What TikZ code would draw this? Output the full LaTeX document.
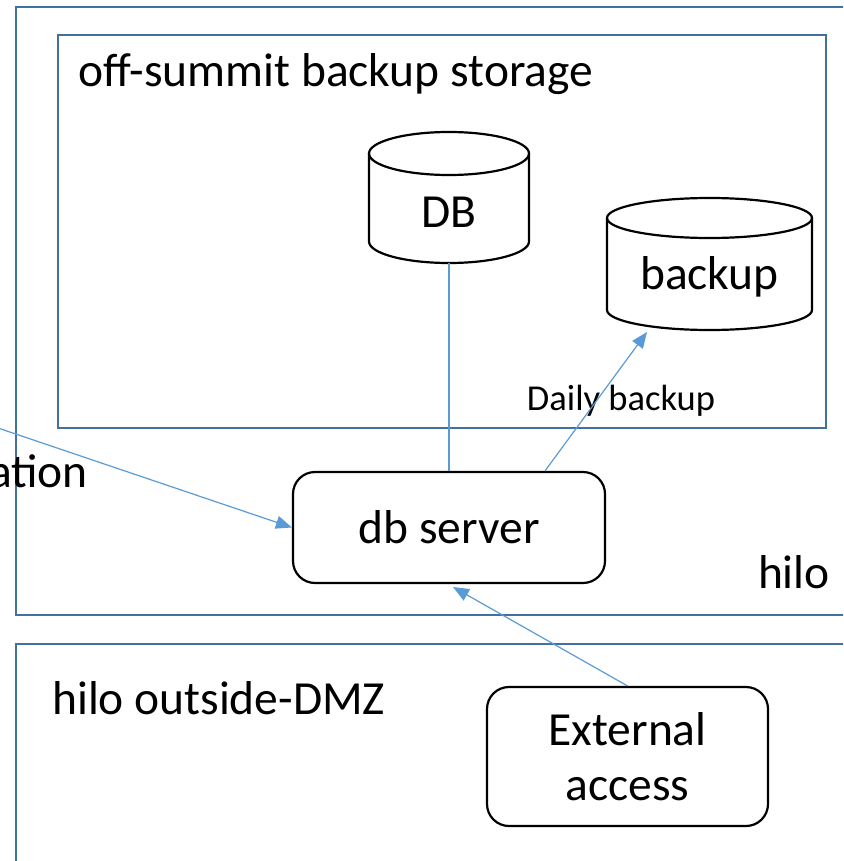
\documentclass[tikz,border=0pt]{standalone}
\usepackage{fontspec}
\setmainfont{Carlito}
\usetikzlibrary{arrows.meta}
\definecolor{boxblue}{HTML}{41719C}
\definecolor{arrowblue}{HTML}{5B9BD5}
\tikzset{
  zone/.style={draw=boxblue, line width=2.8pt},
  cyl/.style={draw=black, line width=2.2pt},
  rbox/.style={draw=black, line width=2.2pt, rounded corners=22pt},
  big/.style={font=\fontsize{47.5}{52}\selectfont, inner sep=0pt},
  small/.style={font=\fontsize{36.5}{40}\selectfont, inner sep=0pt},
  conn/.style={draw=arrowblue, line width=1.2pt},
  arr/.style={conn, -{Triangle[length=16pt,width=13pt]}}
}
\begin{document}
\begin{tikzpicture}[x=1pt,y=1pt]
\useasboundingbox (0,0) rectangle (843,-861);
\begin{scope}
\clip (0,0) rectangle (843,-861);
% zones
\draw[zone] (900,-7) -- (16,-7) -- (16,-615) -- (900,-615);
\draw[zone] (58,-35) rectangle (826,-428);
\draw[zone] (900,-644) -- (16,-644) -- (16,-900);
% DB cylinder
\draw[cyl, fill=white] (369,-153.5) -- (369,-241.5) arc[start angle=180,end angle=360,x radius=80,y radius=21.5] -- (529,-153.5);
\draw[cyl] (449,-153.5) ellipse[x radius=80,y radius=21.5];
\node[big] (db) at (449,-212) {DB};
\coordinate (dbbot) at (449,-263);
% backup cylinder
\draw[cyl] (607,-218) -- (607,-310) arc[start angle=180,end angle=360,x radius=102.5,y radius=20] -- (812,-218);
\draw[cyl] (709.5,-218) ellipse[x radius=102.5,y radius=20];
\node[big] (bk) at (709.5,-277) {backup};
\coordinate (bkbot) at (647,-332);
% db server
\node[rbox, minimum width=312pt, minimum height=111pt, font=\fontsize{47.5}{52}\selectfont] (srv) at (449,-527.5) {db server};
% external access
\node[rbox, minimum width=281pt, minimum height=139pt, align=center, font=\fontsize{47.5}{55}\selectfont] (ext) at (627.5,-756.5) {External\\access};
% labels
\node[big, anchor=base west] (t1) at (78,-87) {off-summit backup storage};
\node[big, anchor=base east] (t2) at (830,-588) {hilo};
\node[big, anchor=base west] (t3) at (52,-714) {hilo outside-DMZ};
\node[big, anchor=base east] (t4) at (88,-487) {ation};
\node[small] (lbl) at (621,-401) {Daily backup};
% connectors
\coordinate (lstart) at (-2,-428);
\draw[conn] (dbbot) -- (srv.north);
\draw[arr] (srv.north -| 545,0) -- (bkbot);
\draw[arr] (lstart) -- (srv.west);
\draw[arr] (ext.north) -- (453,-587);
\end{scope}
\end{tikzpicture}
\end{document}
